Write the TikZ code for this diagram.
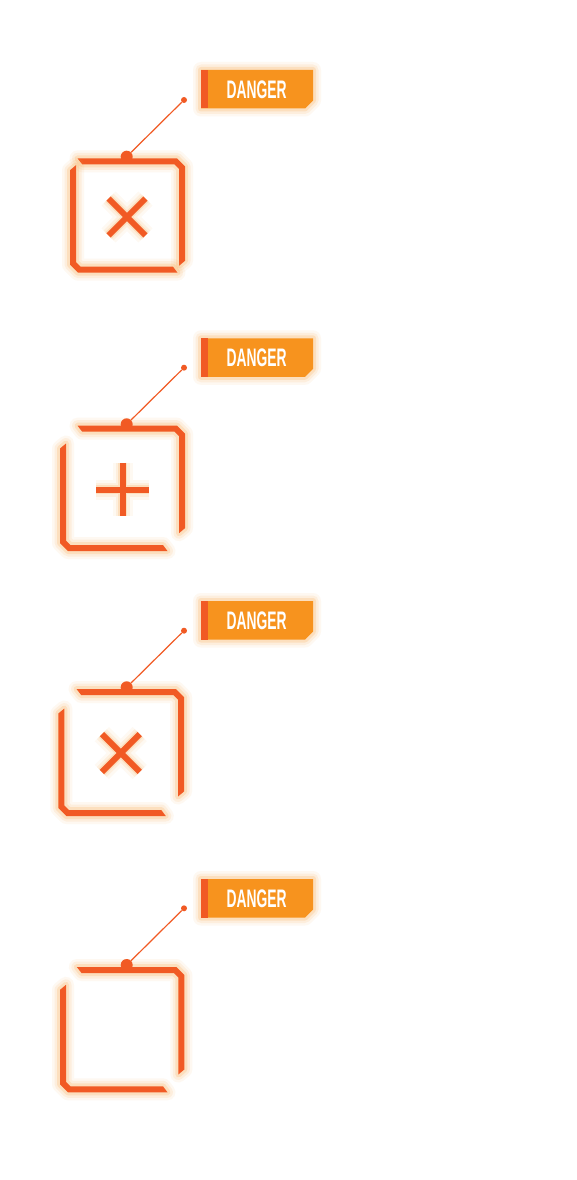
\documentclass[tikz,border=0pt]{standalone}
\usepackage{fontspec}
\setmainfont{Liberation Sans}
\definecolor{boxc}{RGB}{241,90,36}
\definecolor{labelc}{RGB}{247,147,30}
\definecolor{glowc}{RGB}{250,170,80}
\tikzset{
  glow/.style={
    preaction={draw=glowc,line width=16pt,opacity=0.08,line join=round},
    preaction={draw=glowc,line width=11pt,opacity=0.12,line join=round},
    preaction={draw=glowc,line width=6pt,opacity=0.22,line join=round}},
  glowline/.style={
    preaction={draw=glowc,line width=20pt,opacity=0.07},
    preaction={draw=glowc,line width=14pt,opacity=0.12},
    preaction={draw=glowc,line width=9pt,opacity=0.22}},
  piece/.style={fill=boxc,glow},
  tagbox/.style={fill=labelc,glow},
  tagtext/.style={inner sep=0pt,text=white,font=\bfseries},
  smalldot/.style={circle,fill=boxc,inner sep=0pt,minimum size=6pt},
  bigdot/.style={circle,fill=boxc,inner sep=0pt,minimum size=12pt},
  leader/.style={draw=boxc,line width=1.2pt},
  markline/.style={draw=boxc,line width=6pt,glowline}
}
% top-right L piece: #1 = right x, #2 = top y
\newcommand\TRPiece[2]{%
  \fill[piece] ({#1-107.5},{#2}) -- ({#1-8},{#2}) -- ({#1},{#2+8}) -- ({#1},{#2+102.5})
    -- ({#1-6},{#2+107.5}) -- ({#1-6},{#2+10.5}) -- ({#1-10.5},{#2+6}) -- ({#1-102.8},{#2+6}) -- cycle;}
% bottom-left L piece: #1 = left x, #2 = bottom y
\newcommand\BLPiece[2]{%
  \fill[piece] ({#1},{#2-102.5}) -- ({#1+6},{#2-107.5}) -- ({#1+6},{#2-10.5}) -- ({#1+10.5},{#2-6})
    -- ({#1+103},{#2-6}) -- ({#1+107.5},{#2}) -- ({#1+8},{#2}) -- ({#1},{#2-8}) -- cycle;}
% tag: #1 = top y, #2 = name
\newcommand\DangerTag[2]{%
  \fill[tagbox] (201,{#1}) -- (313,{#1}) -- (313,{#1+30.5}) -- (305,{#1+38.5}) -- (201,{#1+38.5}) -- cycle;
  \fill[boxc] (201,{#1}) rectangle (207.5,{#1+38.5});
  \node[tagtext] (#2) at (256.7,{#1+19.3}) {\resizebox{60pt}{17.7pt}{DANGER}};}
\begin{document}
\begin{tikzpicture}[x=1pt,y=-1pt]
\useasboundingbox (0,0) rectangle (576,1180);
\fill[white] (0,0) rectangle (576,1180);

% ---------- group 1 ----------
\DangerTag{70}{tag1}
\TRPiece{185}{158.3}
\BLPiece{70}{272.7}
\node[bigdot] (big1) at (126.7,156.7) {};
\node[smalldot] (dot1) at (184,100) {};
\draw[leader] (dot1) -- (big1);
\coordinate (xa1) at (108.6,198.6);
\coordinate (xb1) at (145.4,235.4);
\coordinate (xc1) at (145.4,198.6);
\coordinate (xd1) at (108.6,235.4);
\draw[markline] (xa1) -- (xb1) (xc1) -- (xd1);

% ---------- group 2 ----------
\DangerTag{338.3}{tag2}
\TRPiece{185}{425.7}
\BLPiece{60}{551}
\node[bigdot] (big2) at (126.7,424.3) {};
\node[smalldot] (dot2) at (184,367.7) {};
\draw[leader] (dot2) -- (big2);
\coordinate (pa2) at (122.7,462.8);
\coordinate (pb2) at (122.7,516.2);
\coordinate (pc2) at (96,489.5);
\coordinate (pd2) at (149.4,489.5);
\draw[markline] (pa2) -- (pb2) (pc2) -- (pd2);

% ---------- group 3 ----------
\DangerTag{601}{tag3}
\TRPiece{184}{689}
\BLPiece{58.3}{816}
\node[bigdot] (big3) at (126.7,687.3) {};
\node[smalldot] (dot3) at (184,630.7) {};
\draw[leader] (dot3) -- (big3);
\coordinate (xa3) at (101.9,734.1);
\coordinate (xb3) at (139.7,771.9);
\coordinate (xc3) at (139.7,734.1);
\coordinate (xd3) at (101.9,771.9);
\draw[markline] (xa3) -- (xb3) (xc3) -- (xd3);

% ---------- group 4 ----------
\DangerTag{879}{tag4}
\TRPiece{184.3}{967}
\BLPiece{60}{1092.3}
\node[bigdot] (big4) at (126.7,965) {};
\node[smalldot] (dot4) at (184,908.3) {};
\draw[leader] (dot4) -- (big4);
\end{tikzpicture}
\end{document}
